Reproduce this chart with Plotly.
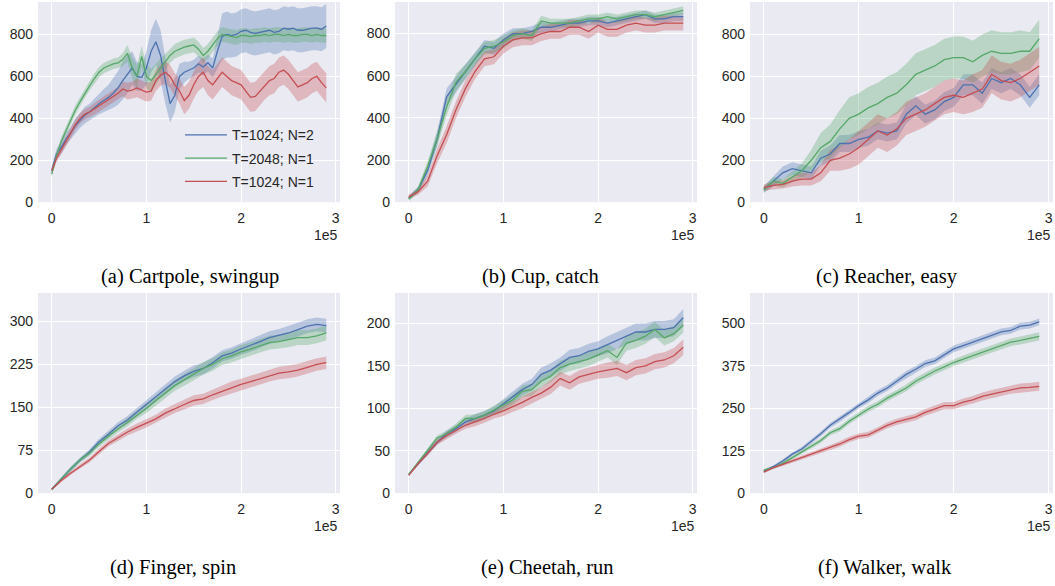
import plotly.graph_objects as go

# ---------------- data ----------------
X_FINE = [0.0, 0.05, 0.1, 0.15, 0.2, 0.25, 0.3, 0.35, 0.4, 0.45, 0.5, 0.55, 0.6, 0.65, 0.7, 0.75,
          0.8, 0.85, 0.9, 0.95, 1.0, 1.05, 1.1, 1.15, 1.2, 1.25, 1.3, 1.35, 1.4, 1.45, 1.5, 1.55,
          1.6, 1.65, 1.7, 1.75, 1.8, 1.85, 1.9, 1.95, 2.0, 2.05, 2.1, 2.15, 2.2, 2.25, 2.3, 2.35,
          2.4, 2.45, 2.5, 2.55, 2.6, 2.65, 2.7, 2.75, 2.8, 2.85, 2.9]
X_COARSE = [0.0, 0.1, 0.2, 0.3, 0.4, 0.5, 0.6, 0.7, 0.8, 0.9, 1.0, 1.1, 1.2, 1.3, 1.4, 1.5,
            1.6, 1.7, 1.8, 1.9, 2.0, 2.1, 2.2, 2.3, 2.4, 2.5, 2.6, 2.7, 2.8, 2.9]
X_SCALE = 1e5

SERIES = ["T=1024; N=2", "T=2048; N=1", "T=1024; N=1"]
COLORS = ["#4C72B0", "#55A868", "#C44E52"]
FILLS = ["rgba(76,114,176,0.32)", "rgba(85,168,104,0.32)", "rgba(196,78,82,0.32)"]

# (a) Cartpole, swingup
cart_blue = [150, 230, 260, 300, 330, 365, 390, 415, 430, 450, 470, 485, 500, 520, 545, 580,
             610, 640, 600, 595, 640, 720, 765, 700, 580, 470, 510, 600, 620, 630, 640, 660,
             645, 665, 640, 720, 790, 800, 795, 800, 815, 820, 810, 805, 810, 815, 820, 810,
             815, 830, 825, 830, 820, 820, 825, 830, 830, 825, 840]
cart_blue_sd = [20, 25, 30, 30, 30, 35, 35, 40, 40, 45, 50, 55, 60, 70, 80, 90,
                90, 80, 70, 60, 80, 100, 110, 120, 110, 90, 80, 60, 50, 40, 40, 40,
                40, 40, 45, 80, 110, 110, 105, 105, 105, 105, 105, 105, 105, 105, 105, 105,
                105, 105, 105, 105, 105, 105, 105, 105, 105, 105, 105]
cart_green = [135, 220, 290, 340, 390, 440, 480, 520, 555, 590, 620, 640, 650, 660, 665, 680,
              710, 640, 600, 695, 600, 580, 610, 640, 670, 700, 720, 730, 740, 745, 750, 730,
              700, 720, 750, 780, 800, 795, 790, 785, 795, 795, 790, 795, 795, 800, 795, 800,
              800, 795, 800, 795, 795, 800, 800, 795, 800, 795, 795]
cart_green_sd = [15, 18, 20, 20, 20, 22, 22, 22, 22, 25, 25, 25, 25, 25, 25, 30,
                 40, 50, 55, 50, 55, 55, 50, 45, 40, 35, 35, 35, 35, 35, 35, 35,
                 35, 35, 35, 35, 35, 35, 35, 35, 35, 35, 35, 35, 35, 35, 35, 35,
                 35, 35, 35, 35, 35, 35, 35, 35, 35, 35, 35]
cart_red = [150, 210, 250, 290, 330, 370, 400, 420, 430, 445, 460, 475, 490, 505, 520, 540,
            530, 535, 545, 535, 525, 530, 580, 605, 620, 600, 560, 530, 485, 510, 560, 600,
            620, 580, 560, 590, 620, 600, 580, 570, 560, 530, 500, 505, 530, 560, 580, 590,
            620, 630, 610, 580, 550, 560, 570, 590, 600, 570, 545]
cart_red_sd = [20, 20, 22, 22, 25, 25, 25, 25, 25, 28, 28, 30, 30, 30, 30, 35,
               40, 40, 45, 45, 45, 45, 50, 50, 55, 55, 55, 60, 65, 65, 65, 70,
               70, 70, 70, 70, 70, 70, 70, 70, 70, 70, 70, 70, 70, 70, 70, 70,
               70, 70, 70, 70, 70, 70, 70, 70, 70, 70, 70]

# (b) Cup, catch
cup_blue = [20, 60, 150, 300, 500, 560, 620, 680, 740, 730, 770, 800, 800, 810, 830, 830,
            840, 850, 850, 860, 860, 850, 860, 870, 880, 890, 870, 870, 880, 880]
cup_green = [15, 60, 170, 300, 450, 570, 620, 680, 730, 740, 760, 790, 800, 790, 860, 850,
             850, 850, 860, 870, 870, 880, 870, 880, 890, 890, 880, 890, 900, 910]
cup_red = [25, 50, 100, 220, 320, 440, 540, 620, 680, 690, 740, 770, 780, 780, 800, 810,
           810, 830, 830, 810, 840, 820, 820, 840, 850, 840, 840, 850, 850, 850]
cup_blue_sd = [10, 15, 25, 35, 40, 40, 35, 30, 30, 30, 30, 25, 25, 25, 25, 20,
               20, 20, 20, 20, 20, 20, 20, 20, 20, 20, 20, 20, 20, 20]
cup_green_sd = [10, 15, 25, 35, 40, 40, 35, 30, 30, 30, 30, 25, 25, 25, 25, 20,
                20, 20, 20, 20, 20, 20, 20, 20, 20, 20, 20, 20, 20, 20]
cup_red_sd = [10, 15, 25, 35, 40, 40, 40, 35, 35, 35, 35, 35, 35, 35, 35, 35,
              35, 35, 35, 35, 35, 35, 35, 35, 35, 35, 35, 35, 35, 35]

# (c) Reacher, easy
reach_blue = [60, 100, 140, 160, 150, 140, 210, 230, 280, 280, 300, 310, 340, 330, 340, 420,
              460, 420, 440, 480, 500, 560, 560, 520, 590, 570, 590, 560, 500, 560]
reach_green = [60, 100, 90, 120, 150, 200, 260, 290, 350, 400, 420, 450, 470, 500, 520, 560,
               610, 630, 650, 680, 690, 690, 670, 700, 720, 710, 710, 720, 720, 780]
reach_red = [70, 80, 85, 100, 110, 110, 140, 200, 210, 230, 260, 300, 340, 320, 350, 400,
             420, 440, 470, 500, 510, 500, 520, 540, 610, 580, 570, 590, 620, 650]
reach_blue_sd = [15, 25, 30, 30, 30, 30, 35, 40, 40, 40, 40, 40, 40, 40, 40, 45,
                 45, 45, 45, 45, 45, 50, 50, 50, 50, 50, 50, 50, 50, 50]
reach_green_sd = [15, 20, 20, 25, 35, 50, 70, 80, 90, 100, 100, 100, 100, 100, 100, 100,
                  100, 100, 100, 100, 100, 100, 100, 100, 100, 100, 100, 100, 90, 90]
reach_red_sd = [15, 20, 20, 25, 30, 30, 40, 50, 60, 70, 80, 80, 80, 80, 80, 80,
                80, 80, 80, 80, 80, 80, 90, 90, 90, 90, 90, 90, 90, 90]

# (d) Finger, spin
finger_blue = [7, 25, 42, 58, 72, 90, 103, 118, 128, 142, 155, 168, 182, 195, 205, 213,
               218, 228, 240, 245, 252, 258, 265, 272, 276, 280, 286, 292, 295, 293]
finger_green = [6, 25, 42, 58, 70, 86, 100, 112, 124, 137, 148, 162, 175, 188, 198, 208,
                218, 225, 235, 240, 247, 252, 258, 263, 265, 268, 272, 272, 275, 280]
finger_red = [7, 22, 35, 47, 58, 73, 87, 97, 107, 115, 122, 130, 140, 148, 155, 162,
              165, 172, 178, 185, 190, 195, 200, 205, 210, 212, 215, 220, 225, 228]
finger_blue_sd = [2, 3, 4, 4, 5, 5, 6, 6, 7, 7, 8, 8, 9, 9, 9, 10,
                  10, 10, 10, 10, 10, 11, 11, 11, 11, 12, 12, 12, 12, 12]
finger_green_sd = [2, 3, 4, 4, 5, 5, 6, 6, 7, 7, 8, 8, 9, 9, 10, 11,
                   11, 11, 11, 11, 12, 12, 12, 12, 12, 13, 13, 13, 13, 13]
finger_red_sd = [2, 3, 3, 4, 4, 5, 5, 6, 6, 7, 7, 7, 8, 8, 8, 9,
                 9, 9, 9, 10, 10, 10, 10, 10, 11, 11, 11, 11, 11, 11]

# (e) Cheetah, run
cheetah_blue = [22, 35, 48, 60, 70, 76, 84, 88, 92, 97, 105, 113, 122, 128, 140, 145,
                152, 160, 162, 167, 170, 175, 180, 185, 190, 190, 193, 193, 195, 207]
cheetah_green = [22, 36, 50, 65, 70, 78, 88, 88, 92, 98, 103, 110, 120, 122, 132, 138,
                 148, 152, 155, 158, 163, 168, 160, 177, 180, 185, 193, 183, 188, 198]
cheetah_red = [21, 35, 47, 60, 68, 74, 80, 84, 88, 93, 97, 102, 107, 113, 118, 125,
               135, 130, 137, 140, 143, 145, 147, 142, 148, 150, 155, 157, 162, 172]
cheetah_blue_sd = [1, 2, 3, 3, 4, 4, 4, 5, 5, 5, 6, 6, 7, 7, 8, 8,
                   8, 9, 9, 9, 9, 10, 10, 10, 10, 10, 10, 10, 10, 10]
cheetah_green_sd = [1, 2, 3, 3, 4, 4, 4, 5, 5, 5, 6, 6, 7, 7, 7, 7,
                    8, 8, 8, 8, 8, 8, 9, 9, 9, 9, 9, 9, 9, 9]
cheetah_red_sd = [1, 2, 3, 3, 4, 4, 4, 5, 5, 5, 6, 6, 7, 7, 7, 8,
                  8, 8, 8, 8, 8, 9, 9, 9, 9, 9, 9, 9, 9, 9]

# (f) Walker, walk
walker_blue = [65, 78, 95, 115, 130, 152, 175, 200, 218, 238, 258, 275, 295, 310, 330, 350,
               365, 382, 390, 408, 425, 435, 445, 455, 465, 475, 480, 492, 495, 505]
walker_green = [68, 75, 88, 105, 120, 138, 155, 178, 190, 212, 230, 248, 262, 280, 295, 310,
                330, 345, 360, 372, 385, 395, 405, 415, 425, 435, 445, 450, 455, 462]
walker_red = [62, 75, 85, 95, 105, 115, 125, 135, 145, 158, 168, 172, 185, 200, 210, 218,
              225, 238, 248, 258, 258, 268, 275, 285, 292, 298, 305, 310, 312, 315]
walker_blue_sd = [3, 4, 5, 5, 6, 6, 7, 7, 8, 8, 8, 9, 9, 9, 9, 10,
                  10, 10, 10, 10, 10, 10, 10, 10, 10, 10, 10, 10, 10, 10]
walker_green_sd = [3, 4, 5, 5, 6, 6, 7, 7, 8, 8, 8, 9, 9, 9, 9, 10,
                   10, 10, 10, 10, 10, 11, 11, 11, 11, 11, 11, 12, 12, 12]
walker_red_sd = [3, 4, 5, 5, 6, 6, 7, 7, 8, 8, 8, 9, 9, 9, 9, 10,
                 10, 10, 10, 11, 11, 11, 11, 12, 12, 12, 12, 13, 13, 13]

PANELS = [
    dict(caption="(a) Cartpole, swingup", x=X_FINE, yr=955, ticks=[0, 200, 400, 600, 800],
         means=[cart_blue, cart_green, cart_red], sds=[cart_blue_sd, cart_green_sd, cart_red_sd]),
    dict(caption="(b) Cup, catch", x=X_COARSE, yr=950, ticks=[0, 200, 400, 600, 800],
         means=[cup_blue, cup_green, cup_red], sds=[cup_blue_sd, cup_green_sd, cup_red_sd]),
    dict(caption="(c) Reacher, easy", x=X_COARSE, yr=955, ticks=[0, 200, 400, 600, 800],
         means=[reach_blue, reach_green, reach_red], sds=[reach_blue_sd, reach_green_sd, reach_red_sd]),
    dict(caption="(d) Finger, spin", x=X_COARSE, yr=350, ticks=[0, 75, 150, 225, 300],
         means=[finger_blue, finger_green, finger_red], sds=[finger_blue_sd, finger_green_sd, finger_red_sd]),
    dict(caption="(e) Cheetah, run", x=X_COARSE, yr=236, ticks=[0, 50, 100, 150, 200],
         means=[cheetah_blue, cheetah_green, cheetah_red], sds=[cheetah_blue_sd, cheetah_green_sd, cheetah_red_sd]),
    dict(caption="(f) Walker, walk", x=X_COARSE, yr=590, ticks=[0, 125, 250, 375, 500],
         means=[walker_blue, walker_green, walker_red], sds=[walker_blue_sd, walker_green_sd, walker_red_sd]),
]

# ---------------- layout geometry (pixels) ----------------
W, H = 1055, 586
COLS_PX = [(38, 340), (395, 697), (750, 1053)]
ROWS_PX = [(2, 205), (297, 500)]
CAPTION_X = [190, 540, 887, 173, 547, 885]
CAPTION_Y = [280, 575]
OFFSET_Y = [238, 533]

TICK_FONT = dict(family="Liberation Sans, Arial, sans-serif", size=14, color="#262626")

fig = go.Figure()
layout = dict(width=W, height=H, margin=dict(l=0, r=0, t=0, b=0),
              paper_bgcolor="white", plot_bgcolor="#EAEAF2", showlegend=True)
annotations = []

for i, p in enumerate(PANELS):
    r, c = divmod(i, 3)
    n = i + 1
    xa = "x" if n == 1 else f"x{n}"
    ya = "y" if n == 1 else f"y{n}"
    xs = [v * X_SCALE for v in p["x"]]
    for k in range(3):
        m, s = p["means"][k], p["sds"][k]
        up = [a + b for a, b in zip(m, s)]
        lo = [a - b for a, b in zip(m, s)]
        fig.add_trace(go.Scatter(x=xs + xs[::-1], y=up + lo[::-1], fill="toself",
                                 fillcolor=FILLS[k], line=dict(width=0), mode="lines",
                                 hoverinfo="skip", showlegend=False, legendgroup=SERIES[k],
                                 xaxis=xa, yaxis=ya))
    for k in range(3):
        fig.add_trace(go.Scatter(x=xs, y=p["means"][k], mode="lines", name=SERIES[k],
                                 line=dict(color=COLORS[k], width=1.3),
                                 legendgroup=SERIES[k], showlegend=(i == 0),
                                 xaxis=xa, yaxis=ya))
    x0, x1 = COLS_PX[c]
    y0, y1 = ROWS_PX[r]
    layout["xaxis" if n == 1 else f"xaxis{n}"] = dict(
        domain=[x0 / W, x1 / W], anchor=ya, range=[-0.145e5, 3.045e5],
        tickvals=[0, 1e5, 2e5, 3e5], ticktext=["0", "1", "2", "3"],
        showgrid=True, gridcolor="white", gridwidth=1, zeroline=False, showline=False,
        ticks="", tickfont=TICK_FONT, ticklabelstandoff=6)
    layout["yaxis" if n == 1 else f"yaxis{n}"] = dict(
        domain=[1 - y1 / H, 1 - y0 / H], anchor=xa, range=[0, p["yr"]],
        tickvals=p["ticks"], showgrid=True, gridcolor="white", gridwidth=1,
        zeroline=False, showline=False, ticks="", tickfont=TICK_FONT, ticklabelstandoff=4)
    annotations.append(dict(text="1e5", x=x1 / W, y=1 - OFFSET_Y[r] / H, xref="paper", yref="paper",
                            xanchor="right", yanchor="middle", showarrow=False, font=TICK_FONT))
    annotations.append(dict(text=p["caption"], x=CAPTION_X[i] / W, y=1 - CAPTION_Y[r] / H,
                            xref="paper", yref="paper", xanchor="center", yanchor="middle",
                            showarrow=False,
                            font=dict(family="Liberation Serif, Times New Roman, serif", size=20.5,
                                      color="black")))

layout["annotations"] = annotations
layout["legend"] = dict(x=180 / W, y=1 - 121 / H, xanchor="left", yanchor="top",
                        bgcolor="rgba(0,0,0,0)", font=TICK_FONT, tracegroupgap=2,
                        itemwidth=42)
fig.update_layout(**layout)
fig.write_html("out.html", config={"displayModeBar": False},
               post_script="document.body.style.margin='0';")
